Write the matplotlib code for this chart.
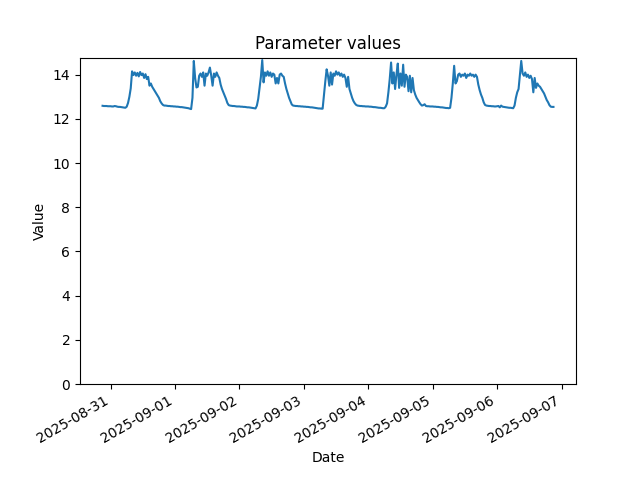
import matplotlib
matplotlib.use('Agg')
import matplotlib.pyplot as plt
import pandas as pd

# half-hourly readings, first one at 2025-08-30 21:00
start = '2025-08-30 21:00'
step = '30min'

d0830 = [12.59, 12.58, 12.58, 12.58, 12.57, 12.57]
d0831 = [12.57, 12.56, 12.56, 12.58, 12.57, 12.55, 12.54, 12.54, 12.53, 12.52, 12.51, 12.50,
         12.55, 12.72, 13.00, 13.38, 14.15, 13.98, 14.10, 13.95, 14.08, 13.92, 14.12, 13.98,
         14.05, 13.85, 14.02, 13.80, 13.90, 13.50, 13.60, 13.45, 13.35, 13.25, 13.15, 13.05,
         12.95, 12.80, 12.70, 12.63, 12.60, 12.60, 12.59, 12.58, 12.58, 12.57, 12.57, 12.56]
d0901 = [12.56, 12.55, 12.55, 12.54, 12.53, 12.53, 12.52, 12.51, 12.50, 12.49, 12.48, 12.46,
         12.44, 12.95, 14.62, 13.85, 13.42, 13.45, 13.95, 14.05, 13.90, 14.10, 13.50, 14.05,
         13.95, 14.10, 14.32, 13.95, 13.50, 14.05, 13.90, 14.10, 13.95, 13.85, 13.55, 13.35,
         13.20, 13.05, 12.90, 12.72, 12.62, 12.60, 12.59, 12.58, 12.58, 12.57, 12.56, 12.56]
d0902 = [12.56, 12.55, 12.55, 12.54, 12.54, 12.53, 12.52, 12.52, 12.51, 12.50, 12.49, 12.48,
         12.47, 12.60, 12.90, 13.40, 13.90, 14.66, 13.65, 14.10, 13.95, 14.15, 13.95, 14.10,
         13.90, 14.05, 14.00, 13.60, 13.85, 13.60, 14.00, 14.05, 13.95, 13.90, 13.60, 13.35,
         13.15, 12.95, 12.80, 12.65, 12.60, 12.59, 12.58, 12.58, 12.57, 12.57, 12.56, 12.56]
d0903 = [12.55, 12.55, 12.54, 12.54, 12.53, 12.52, 12.52, 12.51, 12.50, 12.49, 12.48, 12.47,
         12.47, 12.46, 12.46, 13.10, 13.70, 14.24, 13.95, 13.50, 14.10, 13.55, 14.05, 13.95,
         14.15, 14.00, 14.10, 13.95, 14.05, 13.90, 14.00, 13.85, 13.45, 13.90, 13.35, 13.15,
         12.95, 12.80, 12.70, 12.63, 12.60, 12.59, 12.58, 12.58, 12.57, 12.57, 12.56, 12.56]
d0904 = [12.56, 12.55, 12.55, 12.54, 12.53, 12.53, 12.52, 12.51, 12.50, 12.50, 12.49, 12.48,
         12.48, 12.55, 12.70, 13.20, 13.80, 14.55, 13.60, 14.10, 13.35, 14.00, 14.50, 13.40,
         14.05, 13.50, 14.45, 13.45, 14.00, 13.90, 13.25, 13.95, 13.20, 13.85, 13.30, 13.10,
         12.95, 12.85, 12.75, 12.66, 12.60, 12.62, 12.66, 12.58, 12.57, 12.57, 12.56, 12.56]
d0905 = [12.56, 12.55, 12.55, 12.54, 12.54, 12.53, 12.52, 12.52, 12.51, 12.50, 12.49, 12.49,
         12.48, 12.50, 12.95, 13.60, 14.40, 13.60, 13.70, 14.00, 14.05, 13.90, 14.00, 13.95,
         14.05, 13.85, 14.00, 13.95, 14.05, 13.95, 14.00, 13.90, 14.00, 13.90, 13.55, 13.30,
         13.10, 12.95, 12.75, 12.63, 12.60, 12.59, 12.58, 12.58, 12.57, 12.57, 12.56, 12.56]
d0906 = [12.57, 12.58, 12.52, 12.60, 12.55, 12.54, 12.53, 12.52, 12.51, 12.50, 12.50, 12.49,
         12.48, 12.60, 12.95, 13.20, 13.35, 14.00, 14.62, 14.05, 13.95, 14.10, 13.90, 14.00,
         13.85, 13.95, 13.80, 13.20, 13.85, 13.40, 13.60, 13.50, 13.45, 13.35, 13.25, 13.15,
         13.00, 12.85, 12.75, 12.62, 12.55, 12.54, 12.54]

values = d0830 + d0831 + d0901 + d0902 + d0903 + d0904 + d0905 + d0906
dates = pd.date_range(start, periods=len(values), freq=step)

fig, ax = plt.subplots(figsize=(6.4, 4.8), dpi=100)
ax.plot(dates, values)
ax.set_ylim(bottom=0)
ax.set_title('Parameter values')
ax.set_xlabel('Date')
ax.set_ylabel('Value')
fig.autofmt_xdate()
fig.savefig('out.png', dpi=100)
